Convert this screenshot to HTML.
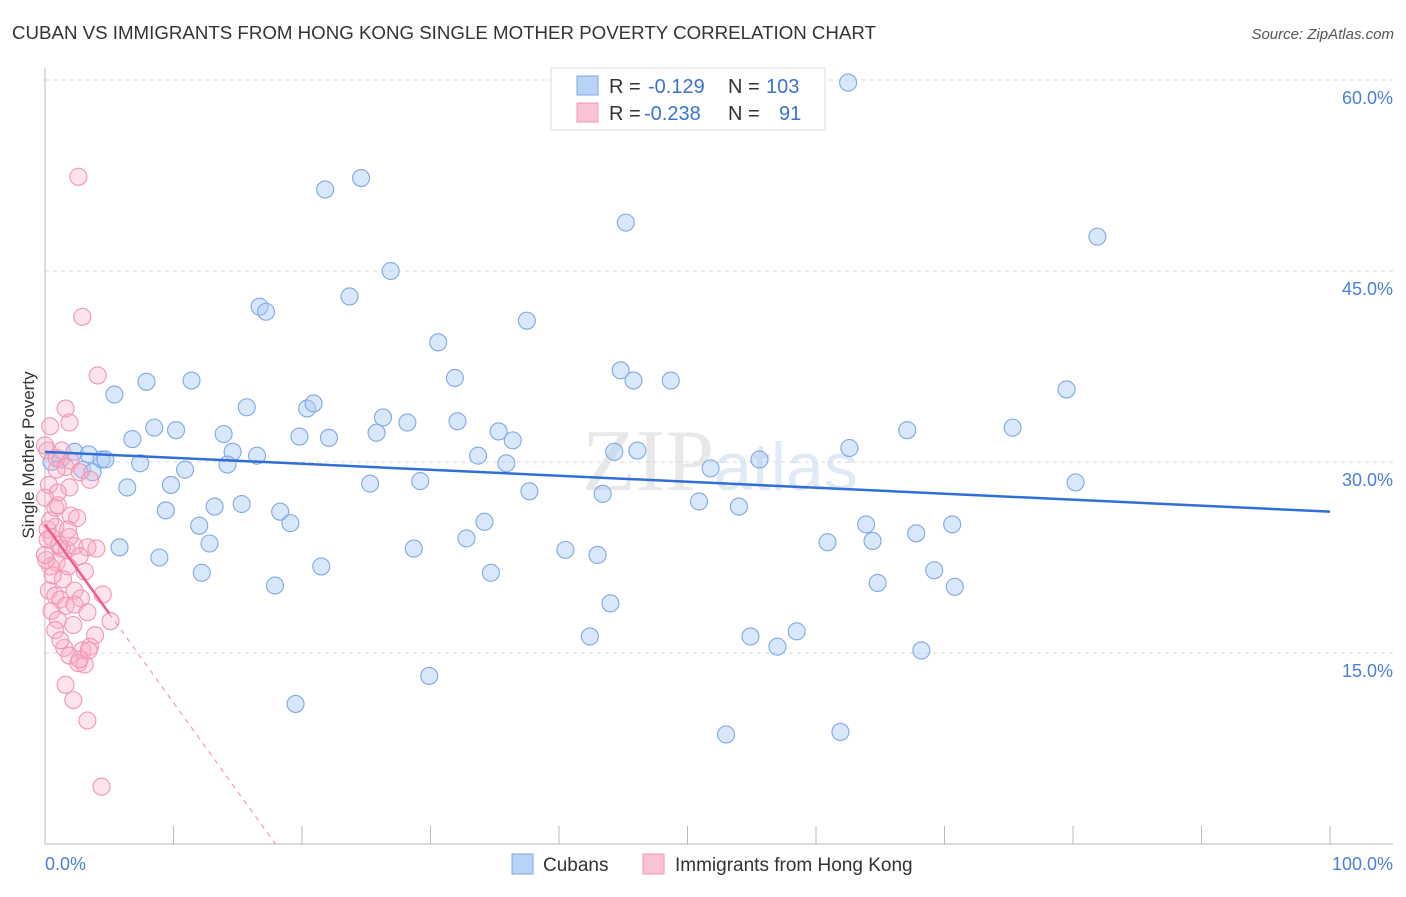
<!DOCTYPE html>
<html><head><meta charset="utf-8"><style>
body{margin:0;background:#fff;font-family:"Liberation Sans",sans-serif;}
</style></head><body>
<svg width="1406" height="892" viewBox="0 0 1406 892" xmlns="http://www.w3.org/2000/svg">
<text x="12" y="39" font-size="18" fill="#333" textLength="864" lengthAdjust="spacingAndGlyphs">CUBAN VS IMMIGRANTS FROM HONG KONG SINGLE MOTHER POVERTY CORRELATION CHART</text>
<text x="1394" y="39" font-size="15" fill="#555" text-anchor="end" font-style="italic">Source: ZipAtlas.com</text>
<text x="720" y="490" font-size="88" fill="#e8e8e8" text-anchor="middle" font-family="Liberation Serif,serif">ZIP<tspan fill="#e0e9f6" font-family="Liberation Sans,sans-serif" font-size="68">atlas</tspan></text>
<g id="grid"></g>
<g id="axes"></g>
<g id="pts"></g>
<g id="trends"></g>
<text transform="translate(34,455) rotate(-90)" font-size="17" fill="#333" text-anchor="middle">Single Mother Poverty</text>
<text x="45" y="870" font-size="18" fill="#4a7fd4">0.0%</text>
<text x="1393" y="870" font-size="18" fill="#4a7fd4" text-anchor="end">100.0%</text>
<g>
<rect x="551" y="68" width="274" height="62" fill="#fff" stroke="#ddd"/>
<rect x="577" y="76" width="21" height="19" fill="#b8d3f5" stroke="#7aa8e5"/>
<rect x="577" y="103" width="21" height="19" fill="#f9c3d3" stroke="#f09ab5"/>
<text x="609" y="93" font-size="20" fill="#333">R = <tspan fill="#3a72d0" x="648">-0.129</tspan></text>
<text x="728" y="93" font-size="20" fill="#333">N = <tspan fill="#3a72d0" x="766">103</tspan></text>
<text x="609" y="120" font-size="20" fill="#333">R = <tspan fill="#3a72d0" x="644">-0.238</tspan></text>
<text x="728" y="120" font-size="20" fill="#333">N = <tspan fill="#3a72d0" x="779">91</tspan></text>
</g>
<g>
<rect x="512" y="854" width="21" height="20" fill="#b8d3f5" stroke="#7aa8e5"/>
<text x="543" y="871" font-size="19" fill="#333">Cubans</text>
<rect x="643" y="854" width="21" height="20" fill="#f9c3d3" stroke="#f09ab5"/>
<text x="675" y="871" font-size="19" fill="#333">Immigrants from Hong Kong</text>
</g>
</svg>
<script>
const yTicks=[15,30,45,60];
const yTickLabels=["15.0%","30.0%","45.0%","60.0%"];
const xTicks=[10,20,30,40,50,60,70,80,90,100];
const blueX=[62.5,21.8,24.6,45.2,81.9,26.9,23.7,16.7,17.2,37.5,30.6,31.9,44.8,45.8,48.7,79.5,7.9,11.4,5.4,15.7,20.4,20.9,26.3,28.2,32.1,8.5,10.2,6.8,13.9,19.8,22.1,25.8,35.3,36.4,75.3,67.1,62.6,44.3,46.1,14.6,16.5,33.7,35.9,55.6,51.8,7.4,10.9,14.2,9.8,6.4,25.3,29.2,37.7,43.4,80.2,50.9,54.0,9.4,13.2,15.3,18.3,19.1,34.2,12.0,63.9,64.4,67.8,70.6,60.9,32.8,5.8,12.8,28.7,40.5,43.0,8.9,21.5,34.7,12.2,69.2,64.8,70.8,17.9,44.0,42.4,54.9,57.0,58.5,68.2,29.9,19.5,53.0,61.9,0.5,1.2,2.3,3.4,4.4,4.7,2.9,3.7];
const blueY=[59.8,51.4,52.3,48.8,47.7,45.0,43.0,42.2,41.8,41.1,39.4,36.6,37.2,36.4,36.4,35.7,36.3,36.4,35.3,34.3,34.2,34.6,33.5,33.1,33.2,32.7,32.5,31.8,32.2,32.0,31.9,32.3,32.4,31.7,32.7,32.5,31.1,30.8,30.9,30.8,30.5,30.5,29.9,30.2,29.5,29.9,29.4,29.8,28.2,28.0,28.3,28.5,27.7,27.5,28.4,26.9,26.5,26.2,26.5,26.7,26.1,25.2,25.3,25.0,25.1,23.8,24.4,25.1,23.7,24.0,23.3,23.6,23.2,23.1,22.7,22.5,21.8,21.3,21.3,21.5,20.5,20.2,20.3,18.9,16.3,16.3,15.5,16.7,15.2,13.2,11.0,8.6,8.8,30.0,30.2,30.8,30.6,30.2,30.2,29.4,29.2];
const pinkX=[2.6,2.9,4.1,1.6,1.9,0.4,1.3,0.2,0.9,2.0,1.6,2.7,3.5,1.9,0.3,1.0,0.8,2.0,2.5,0.8,0.2,0.5,1.3,0.2,1.7,2.3,3.3,4.0,2.7,0.9,1.8,0.4,3.1,1.4,2.3,0.3,0.8,1.2,2.8,1.6,0.5,3.3,5.1,1.0,2.2,0.8,3.9,1.5,2.9,3.5,1.9,2.6,3.1,2.7,1.6,2.2,3.3,4.4,4.5,1.1,0.1,0.6,0.0,0.0,0.9,1.8,1.2,2.3,3.4,1.9,0.4,0.0,1.0];
const pinkY=[52.4,41.4,36.8,34.2,33.1,32.8,30.9,30.9,30.3,30.1,29.6,29.2,28.6,28.0,28.2,27.6,26.4,25.8,25.6,24.9,24.7,24.1,23.2,23.9,23.1,23.4,23.3,23.2,22.6,22.1,21.8,21.8,21.4,20.8,19.9,19.9,19.5,19.2,19.3,18.7,18.3,18.2,17.5,17.6,17.2,16.8,16.4,15.4,15.2,15.5,14.8,14.2,14.1,14.5,12.5,11.3,9.7,4.5,19.6,23.5,22.3,21.1,27.2,31.3,29.4,24.7,16.0,18.8,15.2,24.1,25.4,22.7,26.6];
const blueTrend=[30.8,26.1];
const pinkTrend=[25.1,-1.4];
const pinkSolidEnd=5;

const NS="http://www.w3.org/2000/svg";
const X0=45,X1=1330,Y0=844,YPX=12.733;
function sx(v){return X0+(X1-X0)*v/100;}
function sy(v){return Y0-v*YPX;}
function mk(tag,attrs,parent){const e=document.createElementNS(NS,tag);for(const k in attrs)e.setAttribute(k,attrs[k]);parent.appendChild(e);return e;}
const grid=document.getElementById('grid'),axes=document.getElementById('axes'),pts=document.getElementById('pts'),tr=document.getElementById('trends');
yTicks.forEach((t,i)=>{
  const l=mk('line',{x1:45,x2:1393,y1:sy(t),y2:sy(t),stroke:'#d8d8d8','stroke-dasharray':'4,4'},grid);
  
  
  const tx=mk('text',{x:1393,y:sy(t)+24,'font-size':18,fill:'#4a7fd4','text-anchor':'end'},grid);
  tx.textContent=yTickLabels[i];
  
  
});
const ya=mk('line',{x1:45,x2:45,y1:68,y2:844,stroke:'#bbb'},axes);


const xa=mk('line',{x1:45,x2:1393,y1:844,y2:844,stroke:'#bbb'},axes);


xTicks.forEach(t=>{
  const l=mk('line',{x1:sx(t),x2:sx(t),y1:826,y2:844,stroke:'#bbb'},axes);
  
  
});
blueX.forEach((x,i)=>{
  const c=mk('circle',{cx:sx(x),cy:sy(blueY[i]),r:8.5,fill:'rgba(170,202,244,0.45)',stroke:'#7ea9e4','stroke-width':1.1},pts);
  
  
});
pinkX.forEach((x,i)=>{
  const c=mk('circle',{cx:sx(x),cy:sy(pinkY[i]),r:8.5,fill:'rgba(248,175,198,0.35)',stroke:'#f296b2','stroke-width':1.1},pts);
  
  
});
const bl=mk('line',{x1:sx(0),y1:sy(blueTrend[0]),x2:sx(100),y2:sy(blueTrend[1]),stroke:'#2f6fd6','stroke-width':2.5},tr);


const pe=pinkTrend[0]+pinkTrend[1]*pinkSolidEnd;
const pl=mk('line',{x1:sx(0),y1:sy(pinkTrend[0]),x2:sx(pinkSolidEnd),y2:sy(pe),stroke:'#ec5f8c','stroke-width':2.5},tr);


const xz=-pinkTrend[0]/pinkTrend[1];
const pd=mk('line',{x1:sx(pinkSolidEnd),y1:sy(pe),x2:sx(xz),y2:sy(0),stroke:'#ef8aa8','stroke-width':1,'stroke-dasharray':'5,5'},tr);


</script>
</body></html>
